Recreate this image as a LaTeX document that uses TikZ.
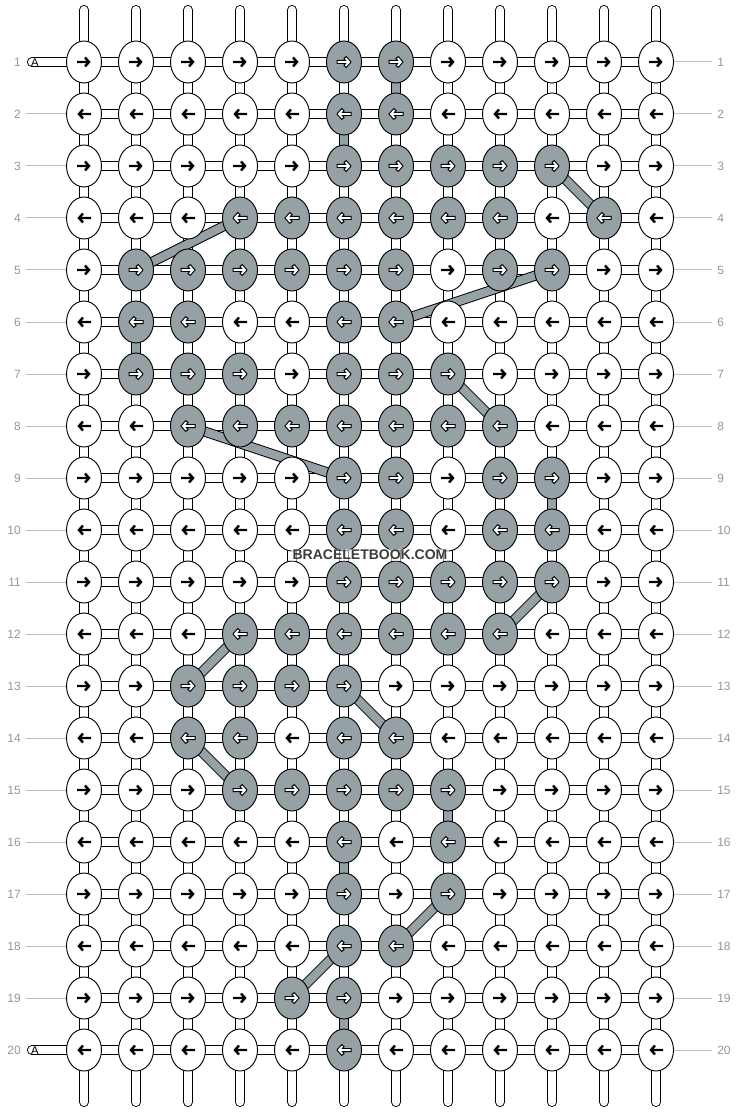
\documentclass[tikz,border=0pt]{standalone}
\usepackage{fontspec}
\setmainfont{Liberation Sans}
\usetikzlibrary{shapes.geometric,backgrounds}
\definecolor{knotgrey}{RGB}{149,161,165}
\definecolor{numgrey}{RGB}{150,150,150}
\definecolor{guidegrey}{RGB}{190,190,190}
\definecolor{strandgrey}{RGB}{212,212,212}
\definecolor{markgrey}{RGB}{60,60,60}
\begin{document}
\begin{tikzpicture}[x=0.75pt, y=-0.75pt,
    knot/.style = {draw, ellipse, line width=0.7pt, fill=#1,
      minimum width=26.25pt, minimum height=31.5pt, inner sep=0pt},
    hlink/.style = {line width=0.7pt, double=white, double distance=6.2pt},
    vlink/.style = {hlink, postaction={draw=strandgrey, line width=0.5pt,
      double=white, double distance=2.4pt}},
    glink/.style = {line width=0.7pt, double=knotgrey, double distance=6.2pt},
    bar/.style = {glink},
    tube/.style = {vlink, line cap=round},
    atube/.style = {hlink, line cap=round},
    guide/.style = {draw=guidegrey, line width=0.75pt},
    rownum/.style = {text=numgrey, inner sep=0pt, font=\fontsize{9}{10}\selectfont},
    arrowpen/.style = {line width=1.8pt, line join=miter},
    arrowrim/.style = {line width=3pt, line join=miter},
    arrowcore/.style = {draw=white, line width=1.4pt, line join=miter}]
  \useasboundingbox (0,0) rectangle (740,1112);

  \foreach \r/\cols in {1/{6,7}, 2/{6,7}, 3/{6,7,8,9,10}, 4/{4,5,6,7,8,9,11},
      5/{2,3,4,5,6,7,9,10}, 6/{2,3,6,7}, 7/{2,3,4,6,7,8}, 8/{3,4,5,6,7,8,9},
      9/{6,7,9,10}, 10/{6,7,9,10}, 11/{6,7,8,9,10}, 12/{4,5,6,7,8,9},
      13/{3,4,5,6}, 14/{3,4,6,7}, 15/{4,5,6,7,8}, 16/{6,8}, 17/{6,8},
      18/{6,7}, 19/{5,6}, 20/{6}} {
    \pgfmathsetmacro\dir{mod(\r,2)==1 ? 1 : -1}
    \foreach \c in {1,...,12} {
      \gdef\isgrey{0}
      \foreach \g in \cols {\ifnum\g=\c \gdef\isgrey{1}\fi}
      \ifnum\isgrey=1
        \node[knot=knotgrey] (n\r-\c) at ({32+52*\c}, {10+52*\r}) {};
        \draw[arrowrim, shift={(n\r-\c.center)}, xscale=\dir]
          (-7.5,0) -- (5,0) (0.8,-4.8) -- (5,0) -- (0.8,4.8);
        \draw[arrowcore, shift={(n\r-\c.center)}, xscale=\dir]
          (-6.5,0) -- (5,0) (1.6,-3.9) -- (5,0) -- (1.6,3.9);
      \else
        \node[knot=white] (n\r-\c) at ({32+52*\c}, {10+52*\r}) {};
        \draw[arrowpen, shift={(n\r-\c.center)}, xscale=\dir]
          (-7,0) -- (5,0) (1,-4.5) -- (5,0) -- (1,4.5);
      \fi
    }
    \node[rownum, anchor=east] (l\r) at (21, {10+52*\r}) {\r};
    \node[rownum, anchor=west] (r\r) at (717, {10+52*\r}) {\r};
    \draw[guide, shorten >=3.75pt] (n\r-12) -- (r\r);
  }
  \foreach \r in {2,...,19}
    \draw[guide, shorten <=3.75pt] (l\r) -- (n\r-1);

  \coordinate (a1) at (32,62);
  \coordinate (a20) at (32,1050);
  \node[font=\fontsize{8.5}{9}\selectfont, inner sep=0pt] (atext1) at (35,62.5) {A};
  \node[font=\fontsize{8.5}{9}\selectfont, inner sep=0pt] (atext20) at (35,1050.5) {A};

  \foreach \c in {1,...,12} {
    \coordinate (top\c) at ({32+52*\c}, 10);
    \coordinate (bot\c) at ({32+52*\c}, 1102);
  }

  \node[text=markgrey, fill=white, fill opacity=0.55, text opacity=1,
    inner sep=1pt, font=\bfseries\fontsize{10.5}{12}\selectfont]
    (mark) at (370,555) {BRACELETBOOK.COM};

  \begin{scope}[on background layer]
    \draw[atube] (a1) -- (n1-1.center);
    \draw[atube] (a20) -- (n20-1.center);
    \foreach \c in {1,...,12} {
      \draw[tube] (top\c) -- (n1-\c.center);
      \draw[tube] (bot\c) -- (n20-\c.center);
    }
    \foreach \r in {1,...,20}
      \foreach \c [count=\d from 2] in {1,...,11}
        \draw[hlink] (n\r-\c.center) -- (n\r-\d.center);
    \foreach \r [count=\s from 2] in {1,...,19}
      \foreach \c in {1,...,12}
        \draw[vlink] (n\r-\c.center) -- (n\s-\c.center);
    \foreach \r/\s/\c in {1/2/7, 2/3/6, 6/7/2, 9/10/10, 15/16/8, 16/17/6, 19/20/6}
      \draw[glink] (n\r-\c.center) -- (n\s-\c.center);
    \foreach \a/\b in {3-10/4-11, 4-4/5-2, 5-10/6-7, 7-8/8-9, 8-3/9-6,
        11-10/12-9, 12-4/13-3, 13-6/14-7, 14-3/15-4, 17-8/18-7, 18-6/19-5}
      \draw[bar] (n\a.center) -- (n\b.center);
  \end{scope}
\end{tikzpicture}
\end{document}
